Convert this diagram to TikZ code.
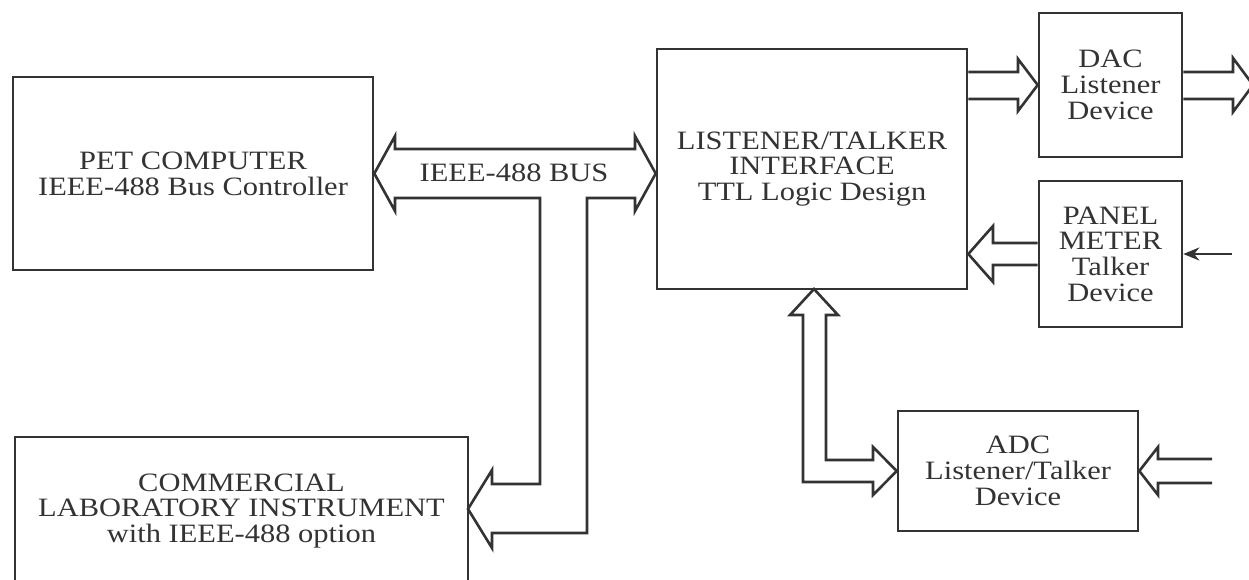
\documentclass[tikz,border=0pt]{standalone}
\usepackage{fontspec}
\setmainfont{Liberation Serif}[FakeStretch=1.15]
\usetikzlibrary{arrows.meta,calc}
\definecolor{ink}{HTML}{333333}
\newcommand\blockfont{\fontsize{26.5}{25.7}\selectfont}
\begin{document}
\begin{tikzpicture}[x=1pt,y=-1pt,
  box/.style={draw=ink, line width=2.6pt, align=center, inner sep=0pt, text=ink,
    font=\blockfont},
  lbl/.style={align=center, inner sep=0pt, text=ink, font=\blockfont},
  hol/.style={draw=ink, line width=2.6pt, line join=miter},
]
\fill[white] (0,0) rectangle (1249,579);
\useasboundingbox (0,0) rectangle (1249,579);
\clip (0,0) rectangle (1249,579);

% blocks
\node[box, minimum width=360pt, minimum height=193pt] (pet) at (193,173.5)
  {PET COMPUTER\\IEEE-488 Bus Controller};
\node[box, minimum width=453pt, minimum height=148pt] (lab) at (241.5,511)
  {COMMERCIAL\\LABORATORY INSTRUMENT\\with IEEE-488 option};
\node[box, minimum width=310pt, minimum height=240pt] (ifc) at (812,169)
  {LISTENER/TALKER\\INTERFACE\\TTL Logic Design};
\node[box, minimum width=143pt, minimum height=144pt] (dac) at (1110.5,85)
  {DAC\\Listener\\Device};
\node[box, minimum width=143pt, minimum height=146pt] (pan) at (1110.5,254)
  {PANEL\\METER\\Talker\\Device};
\node[box, minimum width=240pt, minimum height=120pt] (adc) at (1018,471)
  {ADC\\Listener/Talker\\Device};
\node[lbl] (bus) at (514,173) {IEEE-488 BUS};

% named tips
\coordinate (labtip) at (468,509);
\coordinate (ifcbot) at (814,289);
\coordinate (dacout) at (1253,85);
\coordinate (panin) at (1232,254);

% IEEE-488 bus with branch to the instrument
\draw[hol] (pet.east) -- (395,136) -- (395,149) -- (635,149) -- (635,136)
  -- (ifc.west |- pet.east) -- (635,211) -- (635,198) -- (587,198)
  -- (587,533) -- (492,533) -- (492,548) -- (labtip) -- (492,470)
  -- (492,484) -- (540,484) -- (540,198) -- (395,198) -- (395,211) -- cycle;

% interface <-> ADC
\draw[hol] (ifcbot) -- (838,315) -- (826,315) -- (826,460) -- (873,460)
  -- (873,447) -- (adc.west) -- (873,495) -- (873,482) -- (803,482)
  -- (803,315) -- (790,315) -- cycle;

% interface -> DAC
\draw[hol] (ifc.east |- 0,72) -- (1018,72) -- (1018,59) -- (dac.west)
  -- (1018,111) -- (1018,99) -- (ifc.east |- 0,99);
% DAC output
\draw[hol] (dac.east |- 0,72) -- (1233,72) -- (1233,58) -- (dacout)
  -- (1233,112) -- (1233,99) -- (dac.east |- 0,99);

% panel meter -> interface
\draw[hol] (pan.west |- 0,243) -- (993,243) -- (993,226) -- (ifc.east |- pan.west)
  -- (993,282) -- (993,265) -- (pan.west |- 0,265);
% panel meter input
\draw[draw=ink, line width=2.6pt, -{Stealth[length=16pt,width=13pt]}] (panin) -- (pan.east);

% ADC input
\draw[hol] (1212,459) -- (1158,459) -- (1158,447) -- (adc.east)
  -- (1158,495) -- (1158,483) -- (1212,483);
\end{tikzpicture}
\end{document}
